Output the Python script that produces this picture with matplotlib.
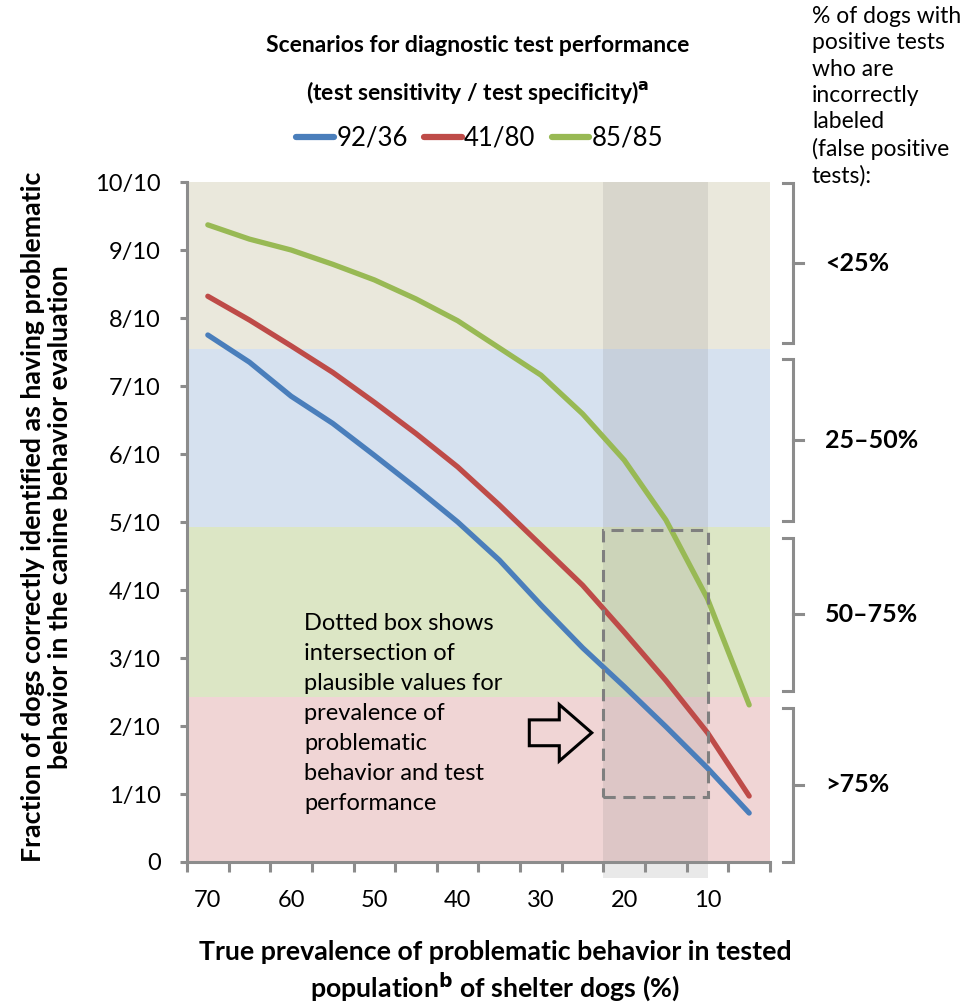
"""
Fraction of shelter dogs correctly identified as having problematic behavior,
by true prevalence, for three diagnostic test scenarios.
"""

import matplotlib
matplotlib.use("Agg")
import matplotlib.pyplot as plt
from matplotlib.patches import Rectangle, FancyArrow
from matplotlib.lines import Line2D

plt.rcParams["font.family"] = ["Lato", "DejaVu Sans"]

# ---- data -------------------------------------------------------------
prevalence = [70, 65, 60, 55, 50, 45, 40, 35, 30, 25, 20, 15, 10, 5]
scenario_labels = ["92/36", "41/80", "85/85"]
sens92_spec36 = [0.775, 0.735, 0.685, 0.645, 0.598, 0.550, 0.500, 0.444,
                 0.378, 0.315, 0.258, 0.199, 0.138, 0.072]
sens41_spec80 = [0.832, 0.797, 0.759, 0.720, 0.676, 0.630, 0.581, 0.525,
                 0.466, 0.407, 0.338, 0.267, 0.190, 0.097]
sens85_spec85 = [0.937, 0.916, 0.900, 0.879, 0.856, 0.828, 0.796, 0.756,
                 0.716, 0.659, 0.591, 0.503, 0.387, 0.231]

# false-positive share bands (lower, upper) and their labels
band_edges = [0.0, 0.243, 0.493, 0.755, 1.0]
band_labels = [">75%", "50\u201375%", "25\u201350%", "<25%"]

# plausible region
plausible_prev = (22.5, 10)
plausible_frac = (0.095, 0.488)

ytick_vals = [i / 10 for i in range(11)]
ytick_labels = ["0"] + [f"{i}/10" for i in range(1, 11)]
xtick_vals = [70, 60, 50, 40, 30, 20, 10]

# ---- style ------------------------------------------------------------
line_colors = ["#4a7ebb", "#be4b48", "#98b954"]
band_colors = ["#f0d5d5", "#dce6c5", "#d6e1ef", "#eae8dc"]
axis_gray = "#8c8c8c"

fig = plt.figure(figsize=(9.66, 10.06), dpi=100)
ax = fig.add_axes([187 / 966, 1 - 862 / 1006, 583 / 966, 680 / 1006])

ax.set_xlim(72.5, 2.5)
ax.set_ylim(0, 1)

for (lo, hi), col in zip(zip(band_edges[:-1], band_edges[1:]), band_colors):
    ax.axhspan(lo, hi, color=col, lw=0, zorder=0)

# gray vertical band for plausible prevalence, runs a bit below the axis
ax.add_patch(Rectangle((plausible_prev[0], -0.024),
                       plausible_prev[1] - plausible_prev[0], 1.024,
                       facecolor="#808080", alpha=0.17, lw=0,
                       clip_on=False, zorder=1))

for ys, col in zip([sens92_spec36, sens41_spec80, sens85_spec85], line_colors):
    ax.plot(prevalence, ys, color=col, lw=3.8, solid_capstyle="round",
            solid_joinstyle="round", zorder=3)

# dashed box
ax.add_patch(Rectangle((plausible_prev[0], plausible_frac[0]),
                       plausible_prev[1] - plausible_prev[0],
                       plausible_frac[1] - plausible_frac[0],
                       fill=False, ec="#7f7f7f", lw=2.2, ls=(0, (4, 2.5)),
                       zorder=4))

ax.text(58.4, 0.366, "Dotted box shows\nintersection of\nplausible values for\n"
        "prevalence of\nproblematic\nbehavior and test\nperformance",
        fontsize=17, va="top", ha="left", linespacing=1.53, zorder=5)

# x axis is reversed, so a negative dx points right on screen
ax.add_patch(FancyArrow(31.4, 0.19, -7.5, 0, width=0.038, head_width=0.083,
                        head_length=3.9, length_includes_head=True,
                        fc="none", ec="black", lw=2.2, zorder=5))

# axes styling
for s in ["top", "right"]:
    ax.spines[s].set_visible(False)
for s in ["left", "bottom"]:
    ax.spines[s].set_color(axis_gray)
    ax.spines[s].set_linewidth(2.2)

ax.set_yticks(ytick_vals)
ax.set_yticklabels(ytick_labels, fontsize=17)
ax.set_xticks(xtick_vals)
ax.set_xticklabels([str(v) for v in xtick_vals], fontsize=17)
ax.set_xticks([72.5 - 5 * i for i in range(15)], minor=True)
ax.tick_params(axis="x", which="major", length=0, pad=20)
ax.tick_params(axis="x", which="minor", length=7, width=2.2, color=axis_gray,
               direction="out")
ax.tick_params(axis="y", length=5, width=2.2, color=axis_gray, pad=14)

# brackets on the right
trans = ax.get_yaxis_transform()
bx, arm, mid = 1.0395, 1.022, 1.057
for i, (lo, hi) in enumerate(zip(band_edges[:-1], band_edges[1:])):
    top = hi - 0.0015 if i == 3 else hi - 0.016
    bot = lo + (0.008 if i > 0 else 0.0)
    ax.plot([arm, bx, bx, arm], [top, top, bot, bot], color=axis_gray,
            lw=2.2, transform=trans, clip_on=False, solid_joinstyle="miter")
    c = (top + bot) / 2
    ax.plot([bx, mid], [c, c], color=axis_gray, lw=2.2, transform=trans,
            clip_on=False)
    ax.text(1.095, c, band_labels[i], transform=trans, fontsize=18,
            fontweight="bold", va="center", ha="left")

fig.text(812 / 966, 1 - 6 / 1006,
         "% of dogs with\npositive tests\nwho are\nincorrectly\nlabeled\n"
         "(false positive\ntests):",
         fontsize=16.5, va="top", ha="left", linespacing=1.31)

# titles, legend, axis labels
fig.text(478 / 966, 1 - 46 / 1006, "Scenarios for diagnostic test performance",
         fontsize=16.5, fontweight="bold", ha="center", va="center")
fig.text(478 / 966, 1 - 93 / 1006,
         "(test sensitivity / test specificity)$^{\\mathbf{a}}$",
         fontsize=16.5, fontweight="bold", ha="center", va="center")

handles = [Line2D([], [], color=c, lw=4.5, solid_capstyle="round")
           for c in line_colors]
fig.legend(handles, scenario_labels, loc="center",
           bbox_to_anchor=(480 / 966, 1 - 138 / 1006), ncol=3, frameon=False,
           fontsize=18.5, handlelength=1.45, handletextpad=0.1,
           columnspacing=0.65)

fig.text(495 / 966, 1 - 972 / 1006,
         "True prevalence of problematic behavior in tested\n"
         "population$^{\\mathbf{b}}$ of shelter dogs (%)",
         fontsize=19.3, fontweight="bold", ha="center", va="center",
         linespacing=1.2)

fig.text(47 / 966, 1 - 517 / 1006,
         "Fraction of dogs correctly identified as having problematic\n"
         "behavior in the canine behavior evaluation",
         fontsize=19.3, fontweight="bold", ha="center", va="center",
         rotation=90, linespacing=1.15)

fig.savefig("out.png", dpi=100)
